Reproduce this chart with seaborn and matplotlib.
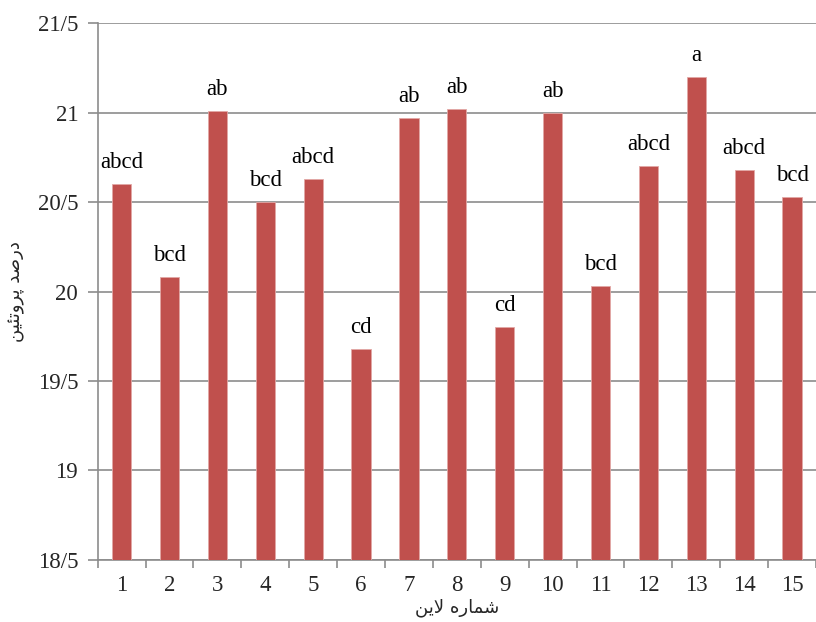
import matplotlib
matplotlib.use("Agg")
import matplotlib.pyplot as plt
import seaborn as sns
import pandas as pd

# ---- data ----
lines = [str(i) for i in range(1, 16)]
protein = [20.60, 20.08, 21.01, 20.50, 20.63, 19.68, 20.97, 21.02, 19.80, 21.00,
           20.03, 20.70, 21.20, 20.68, 20.53]
letters = ["abcd", "bcd", "ab", "bcd", "abcd", "cd", "ab", "ab", "cd", "ab",
           "bcd", "abcd", "a", "abcd", "bcd"]
ytick_values = [18.5, 19.0, 19.5, 20.0, 20.5, 21.0, 21.5]
ytick_labels = ["18/5", "19", "19/5", "20", "20/5", "21", "21/5"]
# Persian titles (logical order) and their pre-shaped visual forms
xlabel_logical = "شماره لاین"
ylabel_logical = "درصد پروتئین"
xlabel_shaped = "\uFEB7\uFEE4\uFE8E\uFEAD\uFEE9 \uFEFB\uFBFE\uFEE6"[::-1]
ylabel_shaped = "\uFEA9\uFEAD\uFEBB\uFEAA \uFB58\uFEAE\uFEED\uFE97\uFE8C\uFBFF\uFEE6"[::-1]

df = pd.DataFrame({"line": lines, "protein": protein})

sns.set_theme(style="white")
plt.rcParams["font.family"] = ["serif"]
plt.rcParams["font.serif"] = ["Liberation Serif", "DejaVu Serif"]

fig = plt.figure(figsize=(8.16, 6.22), dpi=100)
ax = fig.add_axes([0.1197, 0.1002, 0.8803, 0.8623])

sns.barplot(data=df, x="line", y="protein", color="#C0504D", width=0.4,
            edgecolor="#E2A8A6", linewidth=0.6, saturation=1, ax=ax, zorder=3)

ax.set_ylim(18.5, 21.5)
ax.set_xlim(-0.5, len(lines) - 0.5)
ax.set_yticks(ytick_values)
ax.set_yticklabels(ytick_labels, fontsize=16.5)
ax.yaxis.grid(True, color="#8C8C8C", linewidth=1.2, zorder=0)
ax.set_axisbelow(True)

# x ticks: labels at bar centers, tick marks at category boundaries
ax.tick_params(axis="x", which="major", length=0, labelsize=16.5, pad=11)
ax.set_xticks([i - 0.5 for i in range(len(lines) + 1)], minor=True)
ax.tick_params(axis="x", which="minor", length=6, width=1.2, color="#8C8C8C",
               direction="out", bottom=True)
ax.tick_params(axis="y", length=7, width=1.2, color="#8C8C8C", direction="out",
               left=True, pad=7)

for s in ["top", "right"]:
    ax.spines[s].set_visible(False)
for s in ["left", "bottom"]:
    ax.spines[s].set_color("#8C8C8C")
    ax.spines[s].set_linewidth(1.2)

for i, (v, t) in enumerate(zip(protein, letters)):
    ax.annotate(t, xy=(i, v), xytext=(0, 11.5), textcoords="offset points",
                ha="center", va="baseline", fontsize=16.5, color="black")

ax.set_xlabel(xlabel_shaped, fontsize=13, family=["DejaVu Sans"], labelpad=2)
ax.set_ylabel(ylabel_shaped, fontsize=13, family=["DejaVu Sans"], labelpad=9)

fig.savefig("out.png", dpi=100)
